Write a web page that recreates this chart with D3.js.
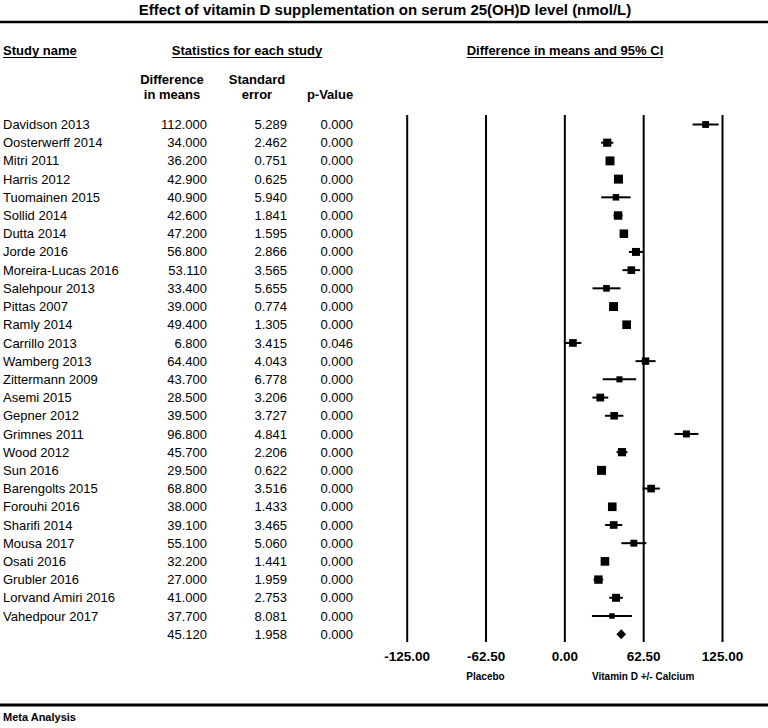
<!DOCTYPE html>
<html><head><meta charset="utf-8">
<script src="https://cdn.jsdelivr.net/npm/d3@7"></script>
<style>
body{margin:0;background:#fff}
svg{display:block}
text{font-family:"Liberation Sans",Arial,Helvetica,sans-serif;fill:#000}
</style>
</head><body>
<svg id="chart" width="768" height="728"></svg>
<script>
// ---------- data ----------
const studyNames = ["Davidson 2013","Oosterwerff 2014","Mitri 2011","Harris 2012","Tuomainen 2015","Sollid 2014","Dutta 2014","Jorde 2016","Moreira-Lucas 2016","Salehpour 2013","Pittas 2007","Ramly 2014","Carrillo 2013","Wamberg 2013","Zittermann 2009","Asemi 2015","Gepner 2012","Grimnes 2011","Wood 2012","Sun 2016","Barengolts 2015","Forouhi 2016","Sharifi 2014","Mousa 2017","Osati 2016","Grubler 2016","Lorvand Amiri 2016","Vahedpour 2017"];
const diffInMeans = [112.000,34.000,36.200,42.900,40.900,42.600,47.200,56.800,53.110,33.400,39.000,49.400,6.800,64.400,43.700,28.500,39.500,96.800,45.700,29.500,68.800,38.000,39.100,55.100,32.200,27.000,41.000,37.700];
const standardErrors = [5.289,2.462,0.751,0.625,5.940,1.841,1.595,2.866,3.565,5.655,0.774,1.305,3.415,4.043,6.778,3.206,3.727,4.841,2.206,0.622,3.516,1.433,3.465,5.060,1.441,1.959,2.753,8.081];
const pValues = [0.000,0.000,0.000,0.000,0.000,0.000,0.000,0.000,0.000,0.000,0.000,0.000,0.046,0.000,0.000,0.000,0.000,0.000,0.000,0.000,0.000,0.000,0.000,0.000,0.000,0.000,0.000,0.000];
const summaryDiff = [45.120];
const summarySE = [1.958];
const summaryP = [0.000];
const xTickValues = [-125, -62.5, 0, 62.5, 125];
const titleText = "Effect of vitamin D supplementation on serum 25(OH)D level (nmol/L)";
const leftLabel = "Placebo";
const rightLabel = "Vitamin D +/- Calcium";

// ---------- setup ----------
const svg = d3.select("#chart");
const W = 768;
const fmt3 = d => d.toFixed(3);
const fmt2 = d => d.toFixed(2);

const x = d3.scaleLinear().domain([-125, 125]).range([406.7, 722]);
const nRows = studyNames.length + 1;
const y = d3.scalePoint().domain(d3.range(nRows)).range([124.5, 634.2]);
const sizeScale = d3.scaleLinear().domain([0.6, 8.1]).range([9, 5.5]).clamp(true);

const rows = studyNames.map((name, i) => ({
  name, diff: diffInMeans[i], se: standardErrors[i], p: pValues[i], i
}));
const summary = {diff: summaryDiff[0], se: summarySE[0], p: summaryP[0], i: studyNames.length};

// ---------- title ----------
svg.append("text").attr("x", 385).attr("y", 15).attr("text-anchor", "middle")
  .attr("font-size", 15).attr("font-weight", "bold").text(titleText);
svg.append("line").attr("x1", 0).attr("x2", W).attr("y1", 22).attr("y2", 22)
  .attr("stroke", "#000").attr("stroke-width", 2.5);

// ---------- headers ----------
function header(txt, cx, yb, anchor, underline) {
  const t = svg.append("text").attr("x", cx).attr("y", yb).attr("text-anchor", anchor)
    .attr("font-size", 13).attr("font-weight", "bold").text(txt);
  if (underline) {
    const w = t.node().getComputedTextLength();
    const x0 = anchor === "middle" ? cx - w / 2 : cx;
    svg.append("line").attr("x1", x0).attr("x2", x0 + w).attr("y1", yb + 2.5).attr("y2", yb + 2.5)
      .attr("stroke", "#000").attr("stroke-width", 1);
  }
}
header("Study name", 3, 55, "start", true);
header("Statistics for each study", 247, 55, "middle", true);
header("Difference in means and 95% CI", 565, 55, "middle", true);
header("Difference", 172, 84, "middle");
header("in means", 172, 99, "middle");
header("Standard", 257, 84, "middle");
header("error", 257, 99, "middle");
header("p-Value", 330, 99, "middle");

// ---------- grid lines + axis ----------
const axisY = 642;
const gridTop = 115;
const axisG = svg.append("g").attr("transform", `translate(0,${axisY})`)
  .call(d3.axisBottom(x).tickValues(xTickValues).tickFormat(fmt2)
    .tickSizeInner(-(axisY - gridTop)).tickSizeOuter(0).tickPadding(9.5));
axisG.select(".domain").remove();
axisG.selectAll(".tick line").attr("stroke", "#000").attr("stroke-width", 2);
axisG.selectAll(".tick text").attr("font-size", 13.5).attr("font-weight", "bold")
  .attr("font-family", '"Liberation Sans",Arial,sans-serif').attr("fill", "#000");

svg.append("text").attr("x", x(-62.5)).attr("y", 680).attr("text-anchor", "middle")
  .attr("font-size", 10).attr("font-weight", "bold").text(leftLabel);
svg.append("text").attr("x", x(62.5)).attr("y", 680).attr("text-anchor", "middle")
  .attr("font-size", 10).attr("font-weight", "bold").text(rightLabel);

// ---------- table text ----------
const allRows = rows.concat([Object.assign({name: ""}, summary)]);
const tg = svg.append("g").attr("font-size", 13);
const rg = tg.selectAll("g.row").data(allRows).join("g").attr("class", "row")
  .attr("transform", d => `translate(0,${y(d.i)})`);
rg.append("text").attr("x", 3).attr("dy", "0.35em").attr("font-size", 13).text(d => d.name);
rg.append("text").attr("x", 207).attr("dy", "0.35em").attr("text-anchor", "end").attr("font-size", 13).text(d => fmt3(d.diff));
rg.append("text").attr("x", 287).attr("dy", "0.35em").attr("text-anchor", "end").attr("font-size", 13).text(d => fmt3(d.se));
rg.append("text").attr("x", 353).attr("dy", "0.35em").attr("text-anchor", "end").attr("font-size", 13).text(d => fmt3(d.p));

// ---------- forest marks ----------
const mg = svg.append("g");
mg.selectAll("line.ci").data(rows).join("line").attr("class", "ci")
  .attr("x1", d => x(d.diff - 1.96 * d.se)).attr("x2", d => x(d.diff + 1.96 * d.se))
  .attr("y1", d => y(d.i)).attr("y2", d => y(d.i))
  .attr("stroke", "#000").attr("stroke-width", 2);
mg.selectAll("rect.pt").data(rows).join("rect").attr("class", "pt")
  .attr("x", d => x(d.diff) - sizeScale(d.se) / 2)
  .attr("y", d => y(d.i) - sizeScale(d.se) / 2)
  .attr("width", d => sizeScale(d.se)).attr("height", d => sizeScale(d.se))
  .attr("fill", "#000");

// summary diamond
const sy = y(summary.i);
const lo = x(summary.diff - 1.96 * summary.se), hi = x(summary.diff + 1.96 * summary.se), mid = x(summary.diff);
mg.append("path").attr("d", `M${lo},${sy}L${mid},${sy - 5}L${hi},${sy}L${mid},${sy + 5}Z`).attr("fill", "#000");

// ---------- footer ----------
svg.append("line").attr("x1", 0).attr("x2", W).attr("y1", 705).attr("y2", 705)
  .attr("stroke", "#000").attr("stroke-width", 3);
svg.append("text").attr("x", 3).attr("y", 721).attr("font-size", 11).attr("font-weight", "bold").text("Meta Analysis");
</script>
</body></html>
